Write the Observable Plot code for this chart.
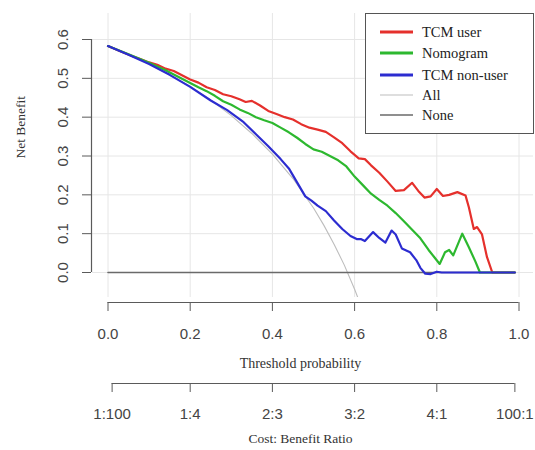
<!DOCTYPE html>
<html><head><meta charset="utf-8">
<script src="https://cdn.jsdelivr.net/npm/d3@7"></script>
<script src="https://cdn.jsdelivr.net/npm/@observablehq/plot@0.6"></script>
<style>
body{margin:0;background:#fff;}
#wrap{position:relative;width:535px;height:450px;overflow:hidden;background:#fff;}
#wrap > svg{display:block;}
#legend{position:absolute;left:365px;top:13px;}
</style></head>
<body><div id="wrap"></div>
<script>
// ---- data ----
const seriesNames = ["TCM user", "Nomogram", "TCM non-user", "All", "None"];
const seriesColors = ["#e5302c", "#2db82f", "#2c2cd0", "#bdbdbd", "#6a6a6a"];
const seriesWidths = [2.2, 2.2, 2.2, 1.1, 1.6];

const xTicks = [0, 0.2, 0.4, 0.6, 0.8, 1.0];
const yTicks = [0, 0.1, 0.2, 0.3, 0.4, 0.5, 0.6];
const costTicks = [0.01, 0.2, 0.4, 0.6, 0.8, 0.99];
const costLabels = ["1:100", "1:4", "2:3", "3:2", "4:1", "100:1"];
const xLabel = "Threshold probability";
const costLabel = "Cost: Benefit Ratio";
const yLabel = "Net Benefit";

const userPt = [0, 0.03, 0.06, 0.08, 0.10, 0.12, 0.14, 0.16, 0.18, 0.20, 0.22, 0.24, 0.26, 0.28, 0.30, 0.32, 0.335, 0.35, 0.37, 0.39, 0.41, 0.43, 0.45, 0.47, 0.49, 0.51, 0.53, 0.55, 0.57, 0.59, 0.61, 0.625, 0.64, 0.66, 0.68, 0.70, 0.72, 0.74, 0.755, 0.77, 0.785, 0.80, 0.815, 0.83, 0.85, 0.87, 0.878, 0.89, 0.898, 0.91, 0.922, 0.935, 0.99];
const userNb = [0.583, 0.570, 0.557, 0.549, 0.541, 0.535, 0.525, 0.519, 0.508, 0.497, 0.489, 0.477, 0.470, 0.459, 0.454, 0.446, 0.439, 0.442, 0.430, 0.416, 0.408, 0.400, 0.394, 0.382, 0.373, 0.368, 0.362, 0.348, 0.333, 0.312, 0.294, 0.292, 0.276, 0.257, 0.234, 0.210, 0.212, 0.231, 0.210, 0.193, 0.196, 0.215, 0.197, 0.200, 0.207, 0.198, 0.168, 0.112, 0.117, 0.098, 0.040, 0, 0];

const nomoPt = [0, 0.05, 0.10, 0.14, 0.18, 0.20, 0.22, 0.24, 0.26, 0.28, 0.30, 0.32, 0.34, 0.36, 0.38, 0.40, 0.42, 0.44, 0.46, 0.48, 0.50, 0.52, 0.54, 0.56, 0.58, 0.60, 0.62, 0.64, 0.66, 0.68, 0.70, 0.72, 0.74, 0.76, 0.78, 0.795, 0.807, 0.82, 0.83, 0.84, 0.862, 0.878, 0.894, 0.905, 0.99];
const nomoNb = [0.583, 0.562, 0.540, 0.521, 0.499, 0.488, 0.477, 0.467, 0.455, 0.441, 0.432, 0.420, 0.411, 0.400, 0.392, 0.385, 0.373, 0.361, 0.347, 0.331, 0.317, 0.311, 0.300, 0.289, 0.273, 0.247, 0.225, 0.203, 0.187, 0.172, 0.153, 0.132, 0.110, 0.088, 0.058, 0.038, 0.022, 0.052, 0.058, 0.044, 0.100, 0.065, 0.028, 0, 0];

const nonPt = [0, 0.05, 0.10, 0.15, 0.20, 0.25, 0.29, 0.33, 0.36, 0.39, 0.42, 0.44, 0.46, 0.48, 0.495, 0.51, 0.53, 0.55, 0.57, 0.59, 0.605, 0.615, 0.625, 0.645, 0.66, 0.675, 0.69, 0.70, 0.715, 0.735, 0.75, 0.76, 0.772, 0.785, 0.80, 0.812, 0.99];
const nonNb = [0.583, 0.561, 0.537, 0.509, 0.478, 0.443, 0.418, 0.387, 0.356, 0.325, 0.292, 0.268, 0.232, 0.196, 0.185, 0.172, 0.158, 0.134, 0.112, 0.094, 0.086, 0.086, 0.081, 0.104, 0.089, 0.077, 0.108, 0.098, 0.062, 0.052, 0.032, 0.012, -0.003, -0.004, 0.002, 0, 0];

const allPt = [0, 0.05, 0.10, 0.15, 0.20, 0.25, 0.30, 0.35, 0.40, 0.45, 0.50, 0.525, 0.55, 0.575, 0.60, 0.625];
const allNb = [0.583, 0.561, 0.537, 0.509, 0.479, 0.444, 0.404, 0.358, 0.305, 0.242, 0.166, 0.122, 0.073, 0.019, -0.043, -0.112];

const nonePt = [0, 0.99];
const noneNb = [0, 0];

// ---- build tables ----
const toRows = (pts, nbs) => pts.map((p, i) => ({pt: p, nb: nbs[i]}));
const curves = [
  toRows(userPt, userNb),
  toRows(nomoPt, nomoNb),
  toRows(nonPt, nonNb),
  toRows(allPt, allNb),
  toRows(nonePt, noneNb)
];
const drawOrder = [3, 4, 0, 1, 2];

const W = 535;
const xDomain = [0, 1];
const xRange = [107.5, 518.5];
const sans = '"Liberation Sans", Arial, Helvetica, sans-serif';
const serif = '"Liberation Serif", "Times New Roman", serif';

const main = Plot.plot({
  width: W, height: 297,
  marginTop: 13, marginBottom: 0, marginLeft: 92, marginRight: 2,
  x: {domain: xDomain, range: xRange, axis: null},
  y: {domain: [0, 0.6], range: [272, 39]},
  style: {fontFamily: sans, fontSize: "15px", color: "#444", background: "white", overflow: "visible"},
  marks: [
    Plot.gridX(xTicks, {stroke: "#e6e6e6", strokeOpacity: 1}),
    Plot.gridY(yTicks, {stroke: "#e6e6e6", strokeOpacity: 1}),
    Plot.ruleX([xTicks[0]], {y1: yTicks[0], y2: yTicks[yTicks.length - 1], dx: -16.5, stroke: "#5a5a5a", strokeWidth: 1.2}),
    Plot.axisY(yTicks, {anchor: "left", tickSize: 9, tickRotate: -90, tickPadding: 15, tickFormat: d3.format(".1f"), label: null, stroke: "#5a5a5a", fill: "#444", dx: -1}),
    ...drawOrder.map(k => Plot.line(curves[k], {x: "pt", y: "nb", stroke: seriesColors[k], strokeWidth: seriesWidths[k], clip: true})),
    Plot.text([yLabel], {text: d => d, frameAnchor: "left", dx: -72, dy: 3, rotate: -90, fontFamily: serif, fontSize: 13.5, fill: "#333"})
  ]
});

const axisB = Plot.plot({
  width: W, height: 80,
  marginTop: 0, marginBottom: 75, marginLeft: 107.5, marginRight: W - 518.5,
  x: {domain: xDomain, range: xRange},
  y: {domain: [0, 1], range: [5, 0], axis: null},
  style: {fontFamily: sans, fontSize: "15px", color: "#444", background: "white", overflow: "visible"},
  marks: [
    Plot.ruleY([0], {x1: xTicks[0], x2: xTicks[xTicks.length - 1], stroke: "#5a5a5a", strokeWidth: 1.2}),
    Plot.axisX(xTicks, {anchor: "bottom", tickSize: 9, tickPadding: 17, tickFormat: d3.format(".1f"), label: null, stroke: "#5a5a5a", fill: "#444"}),
    Plot.text([xLabel], {text: d => d, frameAnchor: "bottom", dx: -13, dy: 65, fontFamily: serif, fontSize: 14, fill: "#333"})
  ]
});

const axisC = Plot.plot({
  width: W, height: 73,
  marginTop: 0, marginBottom: 67, marginLeft: 111.6, marginRight: W - 514.4,
  x: {domain: xDomain, range: xRange},
  y: {domain: [0, 1], range: [6, 0], axis: null},
  style: {fontFamily: sans, fontSize: "15px", color: "#444", background: "white", overflow: "visible"},
  marks: [
    Plot.ruleY([0], {x1: costTicks[0], x2: costTicks[costTicks.length - 1], stroke: "#5a5a5a", strokeWidth: 1.2}),
    Plot.axisX(costTicks, {anchor: "bottom", tickSize: 9, tickPadding: 16, tickFormat: (d, i) => costLabels[i], label: null, stroke: "#5a5a5a", fill: "#444"}),
    Plot.text([costLabel], {text: d => d, frameAnchor: "bottom", dx: -13, dy: 59, fontFamily: serif, fontSize: 13.5, fill: "#333"})
  ]
});

const wrap = document.getElementById("wrap");
wrap.appendChild(main);
wrap.appendChild(axisB);
wrap.appendChild(axisC);

// legend (boxed, top-right inside the plot area)
const lgW = 169, lgH = 121;
const lg = d3.create("svg").attr("id", "legend").attr("width", lgW).attr("height", lgH)
  .style("position", "absolute").style("left", "365px").style("top", "13px");
lg.append("rect").attr("x", 0.5).attr("y", 0.5).attr("width", lgW - 1).attr("height", lgH - 1)
  .attr("fill", "white").attr("stroke", "#555").attr("stroke-width", 1);
const rowY = [19, 40, 62, 82, 102];
seriesNames.forEach((name, i) => {
  const lw = i < 3 ? 3 : (i === 3 ? 1 : 1.5);
  lg.append("line").attr("x1", 15).attr("x2", 48).attr("y1", rowY[i]).attr("y2", rowY[i])
    .attr("stroke", seriesColors[i]).attr("stroke-width", lw);
  lg.append("text").attr("x", 57).attr("y", rowY[i]).attr("dy", "0.35em")
    .attr("font-family", serif).attr("font-size", 14.5).attr("fill", "#222").text(name);
});
wrap.appendChild(lg.node());
</script>
</body></html>
